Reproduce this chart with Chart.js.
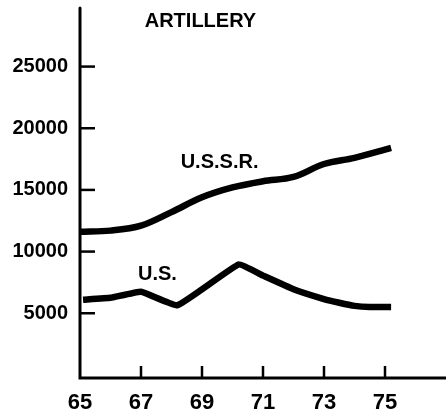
<!DOCTYPE html>
<html>
<head>
<meta charset="utf-8">
<script src="https://cdn.jsdelivr.net/npm/chart.js@4/dist/chart.umd.min.js"></script>
<style>
html,body{margin:0;padding:0;background:#fff;}
#wrap{width:446px;height:415px;position:relative;}
</style>
</head>
<body>
<div id="wrap"><canvas id="c" width="446" height="415"></canvas></div>
<script>
// Data
const ussrYears  = [65, 66, 67, 68, 69, 70, 71, 72, 73, 74, 75.2];
const ussrValues = [11600, 11700, 12100, 13200, 14400, 15200, 15700, 16050, 17100, 17600, 18400];
const usYears    = [65.1, 66, 67, 68.2, 70.2, 71, 72, 73, 73.5, 74, 74.5, 75.2];
const usValues   = [6100, 6250, 6750, 5650, 8950, 8050, 6950, 6150, 5850, 5600, 5500, 5500];
const yTickValues = [5000, 10000, 15000, 20000, 25000];
const xTickValues = [65, 67, 69, 71, 73, 75];
const chartTitle = 'ARTILLERY';
const seriesNames = ['U.S.S.R.', 'U.S.'];

const FONT = '"Liberation Sans", Arial, sans-serif';
const NARROW = '"Liberation Sans Narrow", "Liberation Sans", sans-serif';

const toPts = (xs, ys) => xs.map((x, i) => ({x: x, y: ys[i]}));

const decor = {
  id: 'decor',
  afterDraw(chart) {
    const ctx = chart.ctx;
    const xs = chart.scales.x, ys = chart.scales.y;
    const ca = chart.chartArea;
    ctx.save();
    // axes
    ctx.strokeStyle = '#000';
    ctx.lineWidth = 3;
    ctx.lineCap = 'round';
    ctx.beginPath();
    ctx.moveTo(ca.left, ca.top);
    ctx.lineTo(ca.left, ca.bottom);
    ctx.lineTo(ca.right + 2, ca.bottom);
    ctx.stroke();
    // inward tick marks
    ctx.lineWidth = 2.5;
    ctx.lineCap = 'butt';
    yTickValues.forEach(v => {
      const py = ys.getPixelForValue(v);
      ctx.beginPath();
      ctx.moveTo(ca.left, py);
      ctx.lineTo(ca.left + 15, py);
      ctx.stroke();
    });
    xTickValues.slice(1).forEach(v => {
      const px = xs.getPixelForValue(v);
      ctx.beginPath();
      ctx.moveTo(px, ca.bottom);
      ctx.lineTo(px, ca.bottom - 12);
      ctx.stroke();
    });
    // text labels
    ctx.fillStyle = '#000';
    ctx.textBaseline = 'alphabetic';
    ctx.font = 'bold 20px ' + FONT;
    ctx.textAlign = 'center';
    ctx.fillText(chartTitle, xs.getPixelForValue(68.95), ys.getPixelForValue(28200));
    ctx.textAlign = 'left';
    ctx.font = 'bold 20px ' + FONT;
    ctx.fillText(seriesNames[0], xs.getPixelForValue(68.3), ys.getPixelForValue(16800));
    ctx.fillText(seriesNames[1], xs.getPixelForValue(66.9), ys.getPixelForValue(7700));
    ctx.restore();
  }
};

new Chart(document.getElementById('c'), {
  type: 'line',
  data: {
    datasets: [
      {
        label: seriesNames[0],
        data: toPts(ussrYears, ussrValues),
        borderColor: '#000',
        borderWidth: 6.5,
        pointRadius: 0,
        tension: 0.35,
        borderJoinStyle: 'round',
        fill: false
      },
      {
        label: seriesNames[1],
        data: toPts(usYears, usValues),
        borderColor: '#000',
        borderWidth: 6.5,
        pointRadius: 0,
        tension: 0.1,
        borderJoinStyle: 'miter',
        fill: false
      }
    ]
  },
  plugins: [decor],
  options: {
    responsive: false,
    animation: false,
    layout: { padding: { top: 8, right: 0, left: 0, bottom: 0 } },
    plugins: { legend: { display: false }, tooltip: { enabled: false }, title: { display: false } },
    scales: {
      x: {
        type: 'linear',
        min: 65,
        max: 77,
        afterBuildTicks: s => { s.ticks = xTickValues.map(v => ({value: v})); },
        afterFit: s => { s.height = 37; s.paddingLeft = 0; s.paddingRight = 0; },
        grid: { display: false, drawTicks: false },
        border: { display: false },
        ticks: {
          color: '#000',
          font: { family: NARROW, size: 22, weight: 'bold' },
          padding: 12,
          maxRotation: 0,
          autoSkip: false,
          callback: v => String(v)
        }
      },
      y: {
        type: 'linear',
        min: -250,
        max: 29750,
        afterBuildTicks: s => { s.ticks = yTickValues.map(v => ({value: v})); },
        afterFit: s => { s.width = 80; s.paddingTop = 0; s.paddingBottom = 0; },
        grid: { display: false, drawTicks: false },
        border: { display: false },
        ticks: {
          color: '#000',
          font: { family: FONT, size: 20, weight: 'bold' },
          padding: 12,
          callback: v => String(v)
        }
      }
    }
  }
});
</script>
</body>
</html>
